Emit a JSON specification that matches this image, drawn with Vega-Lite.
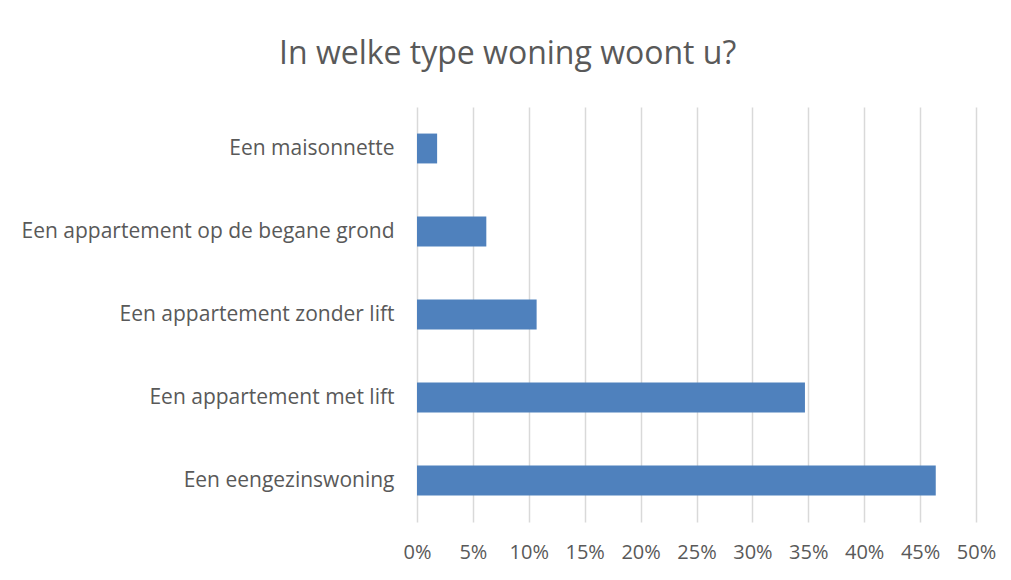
{
  "$schema": "https://vega.github.io/schema/vega-lite/v6.json",
  "autosize": "none",
  "width": 559,
  "height": 415,
  "padding": {"left": 417, "top": 107, "right": 35, "bottom": 58},
  "background": "white",
  "title": {
    "text": "In welke type woning woont u?",
    "anchor": "start",
    "frame": "group",
    "dx": -138,
    "offset": 36,
    "font": "Open Sans",
    "fontSize": 32,
    "fontWeight": "normal",
    "color": "#595959"
  },
  "data": {
    "values": [
      {"type": "Een maisonnette", "pct": 0.018},
      {"type": "Een appartement op de begane grond", "pct": 0.062},
      {"type": "Een appartement zonder lift", "pct": 0.107},
      {"type": "Een appartement met lift", "pct": 0.347},
      {"type": "Een eengezinswoning", "pct": 0.464}
    ]
  },
  "mark": {"type": "bar", "color": "#4f81bd"},
  "encoding": {
    "y": {
      "field": "type",
      "type": "nominal",
      "sort": null,
      "scale": {"paddingInner": 0.64, "paddingOuter": 0.32},
      "axis": {
        "title": null,
        "domain": false,
        "ticks": false,
        "labelPadding": 23,
        "labelFont": "Open Sans",
        "labelFontSize": 21,
        "labelColor": "#595959",
        "labelLimit": 420
      }
    },
    "x": {
      "field": "pct",
      "type": "quantitative",
      "scale": {"domain": [0, 0.5]},
      "axis": {
        "title": null,
        "format": ".0%",
        "values": [0, 0.05, 0.1, 0.15, 0.2, 0.25, 0.3, 0.35, 0.4, 0.45, 0.5],
        "domain": false,
        "ticks": false,
        "grid": true,
        "gridColor": "#d9d9d9",
        "gridWidth": 1.5,
        "labelPadding": 20,
        "labelFont": "Open Sans",
        "labelFontSize": 20,
        "labelColor": "#595959",
        "labelFlush": false
      }
    }
  },
  "config": {"view": {"stroke": null}}
}
